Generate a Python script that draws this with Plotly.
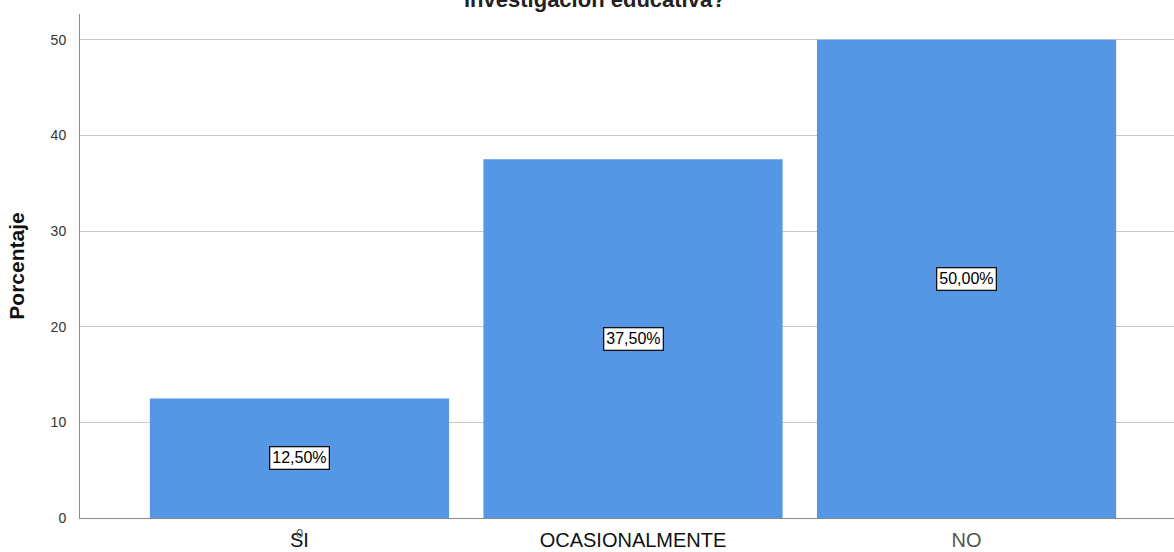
import plotly.graph_objects as go

categories = ["SI", "OCASIONALMENTE", "NO"]
values = [12.5, 37.5, 50.0]
labels = ["12,50%", "37,50%", "50,00%"]
tick_vals = [0, 10, 20, 30, 40, 50]
title_text = "investigación educativa?"

fig = go.Figure()
fig.add_trace(go.Bar(
    x=[0, 1, 2], y=values, width=0.897,
    marker=dict(color="#5596E5", line=dict(width=0)),
    hoverinfo="skip",
))

for i, (v, lab) in enumerate(zip(values, labels)):
    fig.add_annotation(
        x=i, y=v / 2, xref="x", yref="y", text=lab, showarrow=False,
        font=dict(family="Liberation Sans, Arial", size=16, color="black"),
        bgcolor="white", bordercolor="#111111", borderwidth=1.3, borderpad=2,
    )

# stray overlapping "0" above the first category label
fig.add_annotation(
    x=0, y=0, xref="x", yref="y", text="0", showarrow=False,
    font=dict(family="Liberation Sans, Arial", size=13, color="#555555"),
    yanchor="middle", yshift=-15,
)

fig.add_annotation(
    x=(595 - 80) / (1174 - 80), xref="paper", y=1, yref="paper",
    text="<b>" + title_text + "</b>",
    showarrow=False, font=dict(family="Liberation Sans, Arial", size=22, color="#222222"),
    yanchor="middle", yshift=15, xanchor="center",
)

fig.update_layout(
    width=1174, height=552,
    margin=dict(l=80, r=0, t=14, b=34, autoexpand=False),
    plot_bgcolor="white", paper_bgcolor="white",
    showlegend=False,
    xaxis=dict(
        range=[-0.658, 2.622], tickmode="array", tickvals=[0, 1, 2],
        ticktext=["SI", "OCASIONALMENTE", "<span style='color:#555555'>NO</span>"],
        tickfont=dict(family="Liberation Sans, Arial", size=20, color="#111111"),
        showgrid=False, showline=True, linecolor="#8a8a8a", linewidth=1,
        ticks="", zeroline=False, ticklabelstandoff=4, automargin=False,
    ),
    yaxis=dict(
        range=[0, 52.7], tickvals=tick_vals,
        tickfont=dict(family="Liberation Sans, Arial", size=14, color="#333333"),
        showgrid=True, gridcolor="#c8c8c8", gridwidth=1,
        showline=True, linecolor="#8a8a8a", linewidth=1,
        ticks="outside", ticklen=10, tickcolor="rgba(0,0,0,0)",
        zeroline=False, automargin=False,
        title=dict(text="<b>Porcentaje</b>", standoff=20,
                   font=dict(family="Liberation Sans, Arial", size=21, color="#111111")),
    ),
)

fig.write_html("out.html", config={"displayModeBar": False},
               post_script="document.body.style.margin='0';")
